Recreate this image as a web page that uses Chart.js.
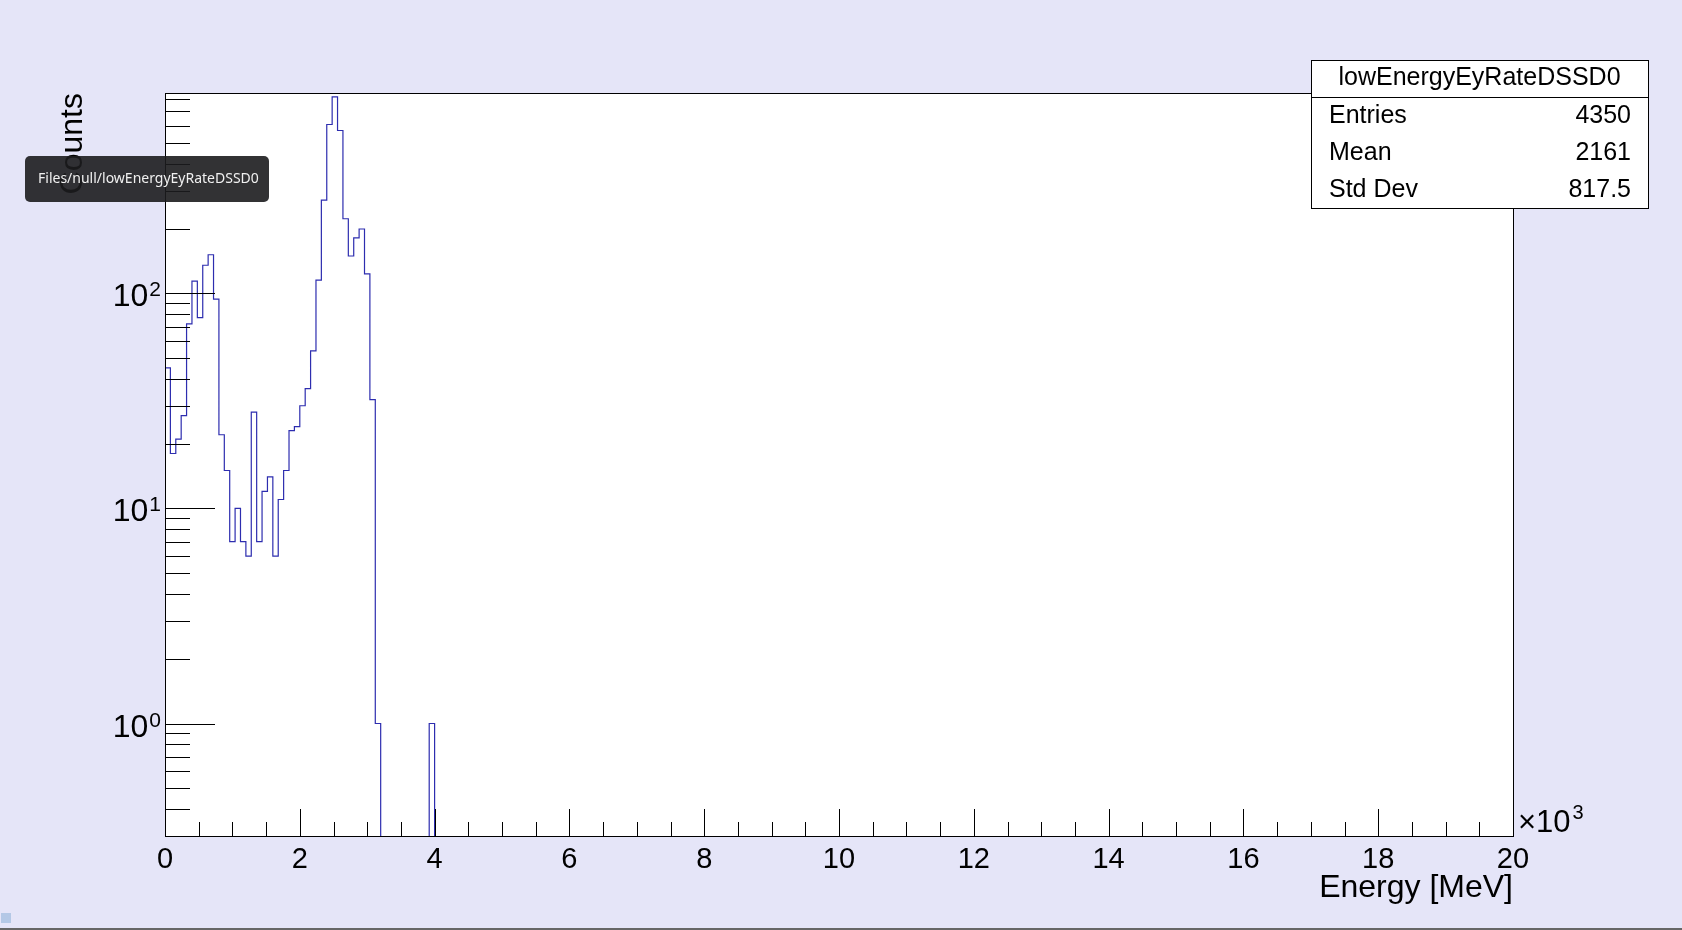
<!DOCTYPE html>
<html>
<head>
<meta charset="utf-8">
<script src="https://cdn.jsdelivr.net/npm/chart.js@4"></script>
<style>
  body { margin: 0; background: rgb(229,229,248); overflow: hidden; }
  canvas { display: block; }
</style>
</head>
<body>
<canvas id="grafico" width="1682" height="930"></canvas>
<script>
//Datos del histograma (bins de 80 keV empezando en 0)
const binWidth = 80;
const counts = [45, 18, 21, 27, 72, 114, 77, 135, 151, 94,
                22, 15, 7, 10, 7, 6, 28, 7, 12, 14,
                6, 11, 15, 23, 24, 30, 36, 54, 115, 271,
                609, 819, 571, 222, 149, 181, 199, 123, 32, 1,
                0, 0, 0, 0, 0, 0, 0, 0, 0, 1];

//Ejes
const xMin = 0, xMax = 20000;
const yMin = 0.3, yMax = 853;
const xMajor = [0, 2000, 4000, 6000, 8000, 10000, 12000, 14000, 16000, 18000, 20000];
const xLabels = ['0', '2', '4', '6', '8', '10', '12', '14', '16', '18', '20'];
const xMinor = [500, 1000, 1500, 2500, 3000, 3500, 4500, 5000, 5500, 6500, 7000, 7500,
                8500, 9000, 9500, 10500, 11000, 11500, 12500, 13000, 13500, 14500, 15000, 15500,
                16500, 17000, 17500, 18500, 19000, 19500];
const yMajor = [1, 10, 100];
const yExp = ['0', '1', '2'];
const yMinor = [0.4, 0.5, 0.6, 0.7, 0.8, 0.9, 2, 3, 4, 5, 6, 7, 8, 9,
                20, 30, 40, 50, 60, 70, 80, 90, 200, 300, 400, 500, 600, 700, 800];

//Stats
const histName = 'lowEnergyEyRateDSSD0';
const statNames = ['Entries', 'Mean', 'Std Dev'];
const statValues = ['4350', '2161', '817.5'];

const fuente = '"Liberation Sans", Arial, sans-serif';

//puntos para la linea escalonada (los bins vacios van por debajo del eje)
const puntos = counts.map((c, i) => ({ x: i * binWidth, y: c > 0 ? c : 0.01 }));
puntos.push({ x: counts.length * binWidth, y: 0.01 });

//Plugin que dibuja el estilo ROOT: marco, ticks hacia adentro, etiquetas, stats
const estiloRoot = {
  id: 'estiloRoot',
  beforeDraw: (chart) => {
    const c = chart.ctx;
    const a = chart.chartArea;
    c.save();
    c.fillStyle = 'rgb(229,229,248)';
    c.fillRect(0, 0, chart.width, chart.height);
    c.fillStyle = '#ffffff';
    c.fillRect(a.left, a.top, a.right - a.left, a.bottom - a.top);
    c.restore();
  },
  afterDatasetsDraw: (chart) => {
    const c = chart.ctx;
    const a = chart.chartArea;
    const xs = chart.scales.x;
    const ys = chart.scales.y;
    c.save();
    c.strokeStyle = '#000';
    c.lineWidth = 1;
    c.strokeRect(Math.round(a.left) + 0.5, Math.round(a.top) + 0.5,
                 Math.round(a.right - a.left), Math.round(a.bottom - a.top));

    c.beginPath();
    //ticks eje x
    xMajor.forEach(v => {
      const px = Math.round(xs.getPixelForValue(v)) + 0.5;
      c.moveTo(px, a.bottom); c.lineTo(px, a.bottom - 27);
    });
    xMinor.forEach(v => {
      const px = Math.round(xs.getPixelForValue(v)) + 0.5;
      c.moveTo(px, a.bottom); c.lineTo(px, a.bottom - 14);
    });
    //ticks eje y
    yMajor.forEach(v => {
      const py = Math.round(ys.getPixelForValue(v)) + 0.5;
      c.moveTo(a.left, py); c.lineTo(a.left + 50, py);
    });
    yMinor.forEach(v => {
      const py = Math.round(ys.getPixelForValue(v)) + 0.5;
      c.moveTo(a.left, py); c.lineTo(a.left + 25, py);
    });
    c.stroke();

    //etiquetas eje x
    c.fillStyle = '#000';
    c.font = '29px ' + fuente;
    c.textAlign = 'center';
    c.textBaseline = 'alphabetic';
    xMajor.forEach((v, i) => {
      c.fillText(xLabels[i], xs.getPixelForValue(v), a.bottom + 32);
    });
    //x10^3
    c.textAlign = 'left';
    c.font = '31px ' + fuente;
    c.fillText('\u00d710', a.right + 5, a.bottom - 4);
    const w10 = c.measureText('\u00d710').width;
    c.font = '20px ' + fuente;
    c.fillText('3', a.right + 7 + w10, a.bottom - 17);

    //etiquetas eje y (10^n)
    yMajor.forEach((v, i) => {
      const py = ys.getPixelForValue(v);
      c.font = '21px ' + fuente;
      c.textAlign = 'right';
      const xr = a.left - 4;
      c.fillText(yExp[i], xr, py + 3);
      const we = c.measureText(yExp[i]).width;
      c.font = '32px ' + fuente;
      c.fillText('10', xr - we - 1, py + 13);
    });

    //titulos de ejes
    c.font = '32px ' + fuente;
    c.textAlign = 'right';
    c.fillText('Energy [MeV]', a.right, a.bottom + 61);
    c.save();
    c.translate(82, a.top);
    c.rotate(-Math.PI / 2);
    c.fillText('Counts', 0, 0);
    c.restore();
    c.restore();
  },
  afterDraw: (chart) => {
    const c = chart.ctx;
    c.save();
    //caja de estadisticas
    const bx = 1311, by = 60, bw = 337, bh = 148;
    c.fillStyle = '#fff';
    c.fillRect(bx, by, bw, bh);
    c.strokeStyle = '#000';
    c.lineWidth = 1;
    c.strokeRect(bx + 0.5, by + 0.5, bw, bh);
    c.beginPath();
    c.moveTo(bx, by + 37.5); c.lineTo(bx + bw, by + 37.5);
    c.stroke();
    c.fillStyle = '#000';
    c.font = '25px ' + fuente;
    c.textAlign = 'center';
    c.fillText(histName, bx + bw / 2, by + 25);
    statNames.forEach((n, i) => {
      const yy = by + 63 + i * 37;
      c.textAlign = 'left';
      c.fillText(n, bx + 18, yy);
      c.textAlign = 'right';
      c.fillText(statValues[i], bx + bw - 17, yy);
    });

    //tooltip del navegador (texto)
    c.fillStyle = 'rgba(28,28,30,0.9)';
    c.beginPath();
    c.roundRect(25, 156, 244, 46, 5);
    c.fill();
    c.fillStyle = '#f0f0f0';
    c.font = '14px "Noto Sans", "Open Sans", sans-serif';
    c.textAlign = 'left';
    c.fillText('Files/null/' + histName, 38, 183);

    //cuadrito abajo a la izquierda y borde inferior
    c.fillStyle = 'rgb(180,200,230)';
    c.fillRect(1, 913, 10, 10);
    c.fillStyle = '#666';
    c.fillRect(0, 928, chart.width, 2);
    c.restore();
  }
};

let ctx = document.getElementById('grafico').getContext('2d');
let myChart = new Chart(ctx, {
  type: 'line',
  data: {
    datasets: [{
      label: histName,
      data: puntos,
      stepped: true,
      borderColor: 'rgb(45,45,175)',
      borderWidth: 1.2,
      pointRadius: 0,
      fill: false,
      tension: 0
    }]
  },
  options: {
    responsive: false,
    animation: false,
    layout: { padding: { left: 165, top: 93, right: 169, bottom: 94 } },
    scales: {
      x: { type: 'linear', min: xMin, max: xMax, display: false },
      y: { type: 'logarithmic', min: yMin, max: yMax, display: false }
    },
    plugins: {
      legend: { display: false },
      tooltip: { enabled: false }
    }
  },
  plugins: [estiloRoot]
});
</script>
</body>
</html>
